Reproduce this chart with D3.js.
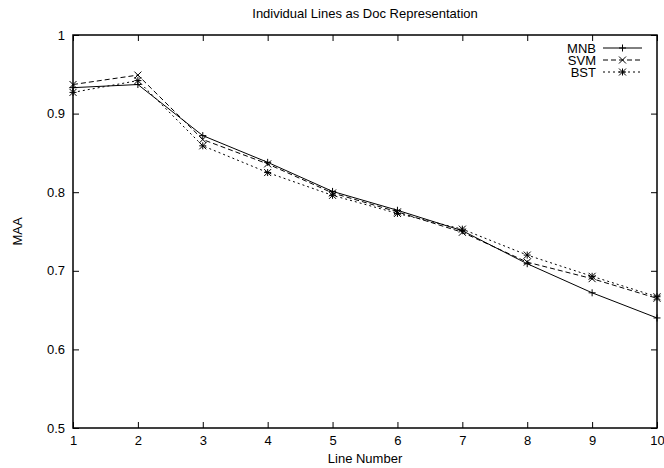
<!DOCTYPE html>
<html>
<head>
<meta charset="utf-8">
<script src="https://cdn.jsdelivr.net/npm/d3@7"></script>
<style>
  body { margin: 0; background: #fff; }
  text { font-family: "Liberation Sans", Arial, sans-serif; fill: #000; }
</style>
</head>
<body>
<div id="chart"></div>
<script>
// data
const lineNumbers = [1, 2, 3, 4, 5, 6, 7, 8, 9, 10];
const mnb = [0.933, 0.937, 0.872, 0.838, 0.801, 0.777, 0.751, 0.709, 0.672, 0.640];
const svm = [0.937, 0.949, 0.867, 0.836, 0.799, 0.775, 0.749, 0.711, 0.690, 0.665];
const bst = [0.927, 0.942, 0.859, 0.825, 0.796, 0.773, 0.753, 0.720, 0.693, 0.667];
const yTicks = [0.5, 0.6, 0.7, 0.8, 0.9, 1];
const yTickLabels = ["0.5", "0.6", "0.7", "0.8", "0.9", "1"];

const series = [
    { name: "MNB", values: mnb, dash: null, marker: "plus" },
    { name: "SVM", values: svm, dash: "5,3", marker: "cross" },
    { name: "BST", values: bst, dash: "2,3", marker: "star" }
];

const W = 664, H = 468;
const margin = { top: 35, right: 7, bottom: 40, left: 73 };
const width = W - margin.left - margin.right;
const height = H - margin.top - margin.bottom;

const svg = d3.select("#chart").append("svg")
    .attr("width", W)
    .attr("height", H);

const g = svg.append("g")
    .attr("transform", `translate(${margin.left},${margin.top})`);

const x = d3.scaleLinear().domain([1, 10]).range([0, width]);
const y = d3.scaleLinear().domain([0.5, 1]).range([height, 0]);

// axes, ticks pointing inward on all four sides
const tick = 6;
g.append("g")
    .attr("transform", `translate(0,${height})`)
    .call(d3.axisBottom(x).tickValues(lineNumbers).tickSize(-tick).tickPadding(8).tickFormat(d3.format("d")))
    .call(a => a.select(".domain").remove());
g.append("g")
    .call(d3.axisTop(x).tickValues(lineNumbers).tickSize(-tick).tickFormat(""))
    .call(a => a.select(".domain").remove());
g.append("g")
    .call(d3.axisLeft(y).tickValues(yTicks).tickSize(-tick).tickPadding(8).tickFormat((d, i) => yTickLabels[i]))
    .call(a => a.select(".domain").remove());
g.append("g")
    .attr("transform", `translate(${width},0)`)
    .call(d3.axisRight(y).tickValues(yTicks).tickSize(-tick).tickFormat(""))
    .call(a => a.select(".domain").remove());

g.selectAll(".tick text").style("font-size", "13px").style("font-family", "'Liberation Sans', Arial, sans-serif");
g.selectAll(".tick line").attr("stroke", "#000");

g.append("rect")
    .attr("width", width).attr("height", height)
    .attr("fill", "none").attr("stroke", "#000").attr("stroke-width", 1.5);

// markers
function marker(sel, type, cx, cy) {
    const s = 3.5;
    let d = "";
    if (type === "plus" || type === "star") d += `M${cx - s},${cy}H${cx + s}M${cx},${cy - s}V${cy + s}`;
    if (type === "cross" || type === "star") d += `M${cx - s},${cy - s}L${cx + s},${cy + s}M${cx - s},${cy + s}L${cx + s},${cy - s}`;
    sel.append("path").attr("d", d).attr("stroke", "#000").attr("stroke-width", 1).attr("fill", "none");
}

const line = d3.line().x((d, i) => x(lineNumbers[i])).y(d => y(d));

series.forEach(s => {
    g.append("path")
        .datum(s.values)
        .attr("d", line)
        .attr("fill", "none")
        .attr("stroke", "#000")
        .attr("stroke-width", 1)
        .attr("stroke-dasharray", s.dash);
    s.values.forEach((v, i) => marker(g, s.marker, x(lineNumbers[i]), y(v)));
});

// legend
const legend = g.append("g").attr("transform", `translate(${width - 54},13)`);
series.forEach((s, i) => {
    const row = legend.append("g").attr("transform", `translate(0,${i * 12})`);
    row.append("text")
        .attr("x", -7).attr("y", 4.5)
        .attr("text-anchor", "end")
        .style("font-size", "13px")
        .text(s.name);
    row.append("line")
        .attr("x1", 0).attr("x2", 39)
        .attr("stroke", "#000")
        .attr("stroke-dasharray", s.dash);
    marker(row, s.marker, 19.5, 0);
});

// titles
svg.append("text")
    .attr("x", margin.left + width / 2).attr("y", 18)
    .attr("text-anchor", "middle")
    .style("font-size", "13px")
    .text("Individual Lines as Doc Representation");

svg.append("text")
    .attr("x", margin.left + width / 2).attr("y", 463)
    .attr("text-anchor", "middle")
    .style("font-size", "13px")
    .text("Line Number");

svg.append("text")
    .attr("transform", `translate(22,${margin.top + height / 2}) rotate(-90)`)
    .attr("text-anchor", "middle")
    .style("font-size", "13px")
    .text("MAA");
</script>
</body>
</html>
